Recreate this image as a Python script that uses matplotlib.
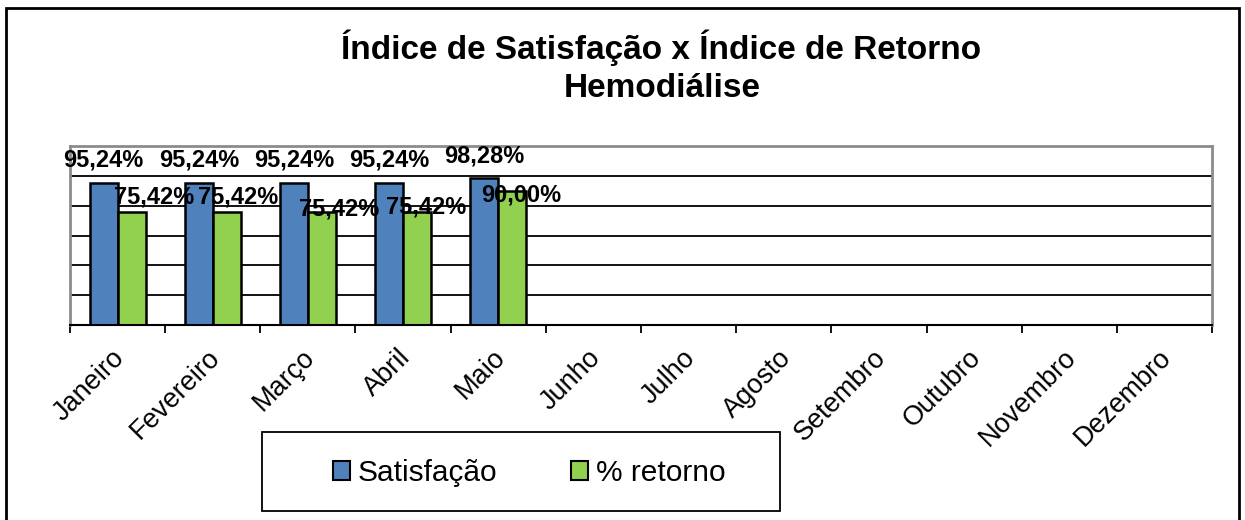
import matplotlib
matplotlib.use('Agg')
import matplotlib.pyplot as plt
from matplotlib.patches import Rectangle, Patch
from matplotlib.transforms import ScaledTranslation
import numpy as np

plt.rcParams['font.family'] = ['Liberation Sans', 'DejaVu Sans']

meses = ['Janeiro', 'Fevereiro', 'Março', 'Abril', 'Maio', 'Junho', 'Julho',
         'Agosto', 'Setembro', 'Outubro', 'Novembro', 'Dezembro']
satisfacao = [95.24, 95.24, 95.24, 95.24, 98.28]
retorno = [75.42, 75.42, 75.42, 75.42, 90.00]

# label nudges in pixels (dx, dy) for the % retorno labels, as in the original
nudge_ret = [(23, 9), (11, 9), (17, -3), (9, -1), (9, -11)]

W, H = 1245, 520
fig = plt.figure(figsize=(W / 100, H / 100), dpi=100)

# outer frame
fig.patches.append(Rectangle((6 / W, -0.05), (1239 - 6) / W, 1.05 - 8 / H,
                             transform=fig.transFigure, fill=False,
                             edgecolor='black', linewidth=2))

ax = fig.add_axes([70 / W, 1 - 325 / H, (1212 - 70) / W, (325 - 146) / H])

bw = 0.294
x = np.arange(len(satisfacao))
ax.bar(x - bw / 2, satisfacao, bw, color='#4F81BD', edgecolor='black',
       linewidth=1.8, zorder=3)
ax.bar(x + bw / 2, retorno, bw, color='#92D050', edgecolor='black',
       linewidth=1.8, zorder=3)

ax.set_xlim(-0.5, len(meses) - 0.5)
ax.set_ylim(0, 120)
ax.set_yticks(np.arange(0, 121, 20))
ax.yaxis.grid(True, color='black', linewidth=1.3, zorder=0)
ax.tick_params(axis='y', length=0, labelleft=False)

ax.set_xticks(np.arange(-0.5, len(meses), 1))
ax.set_xticklabels([])
ax.tick_params(axis='x', which='major', direction='out', length=6,
               width=1.3, color='black')
ax.set_xticks(np.arange(len(meses)), minor=True)
ax.set_xticklabels(meses, minor=True, rotation=45, ha='right', va='top',
                   rotation_mode='anchor', fontsize=19.5)
ax.tick_params(axis='x', which='minor', length=0, pad=12)
shift = ScaledTranslation(-6 / 100, -3 / 100, fig.dpi_scale_trans)
for lab in ax.get_xticklabels(minor=True):
    lab.set_transform(lab.get_transform() + shift)

for s in ['top', 'right', 'left']:
    ax.spines[s].set_color('#8C8C8C')
    ax.spines[s].set_linewidth(2)
ax.spines['bottom'].set_color('black')
ax.spines['bottom'].set_linewidth(1.5)
ax.spines['bottom'].set_zorder(4)

for i, v in enumerate(satisfacao):
    ax.annotate(f'{v:.2f}%'.replace('.', ','), (x[i] - bw / 2, v),
                xytext=(0, 16), textcoords='offset pixels',
                ha='center', va='baseline', fontsize=17, fontweight='bold',
                zorder=5)
for i, v in enumerate(retorno):
    dx, dy = nudge_ret[i]
    ax.annotate(f'{v:.2f}%'.replace('.', ','), (x[i] + bw / 2, v),
                xytext=(dx, dy), textcoords='offset pixels',
                ha='center', va='baseline', fontsize=17, fontweight='bold',
                zorder=5)

fig.text(661 / W, 1 - 59 / H, 'Índice de Satisfação x Índice de Retorno',
         ha='center', va='baseline', fontsize=24, fontweight='bold')
fig.text(662 / W, 1 - 97 / H, 'Hemodiálise',
         ha='center', va='baseline', fontsize=24, fontweight='bold')

# legend box
fig.patches.append(Rectangle((262 / W, 1 - 511 / H), (780 - 262) / W,
                             (511 - 432) / H, transform=fig.transFigure,
                             fill=False, edgecolor='black', linewidth=1.3))
handles = [Patch(facecolor='#4F81BD', edgecolor='black', linewidth=1.5),
           Patch(facecolor='#92D050', edgecolor='black', linewidth=1.5)]
fig.legend(handles, ['Satisfação', '% retorno'], loc='center',
           bbox_to_anchor=(529 / W, 1 - 473 / H), ncol=2, frameon=False,
           fontsize=21.5, handlelength=0.57, handleheight=0.57,
           handletextpad=0.27, columnspacing=2.45)

fig.savefig('out.png', dpi=100)
